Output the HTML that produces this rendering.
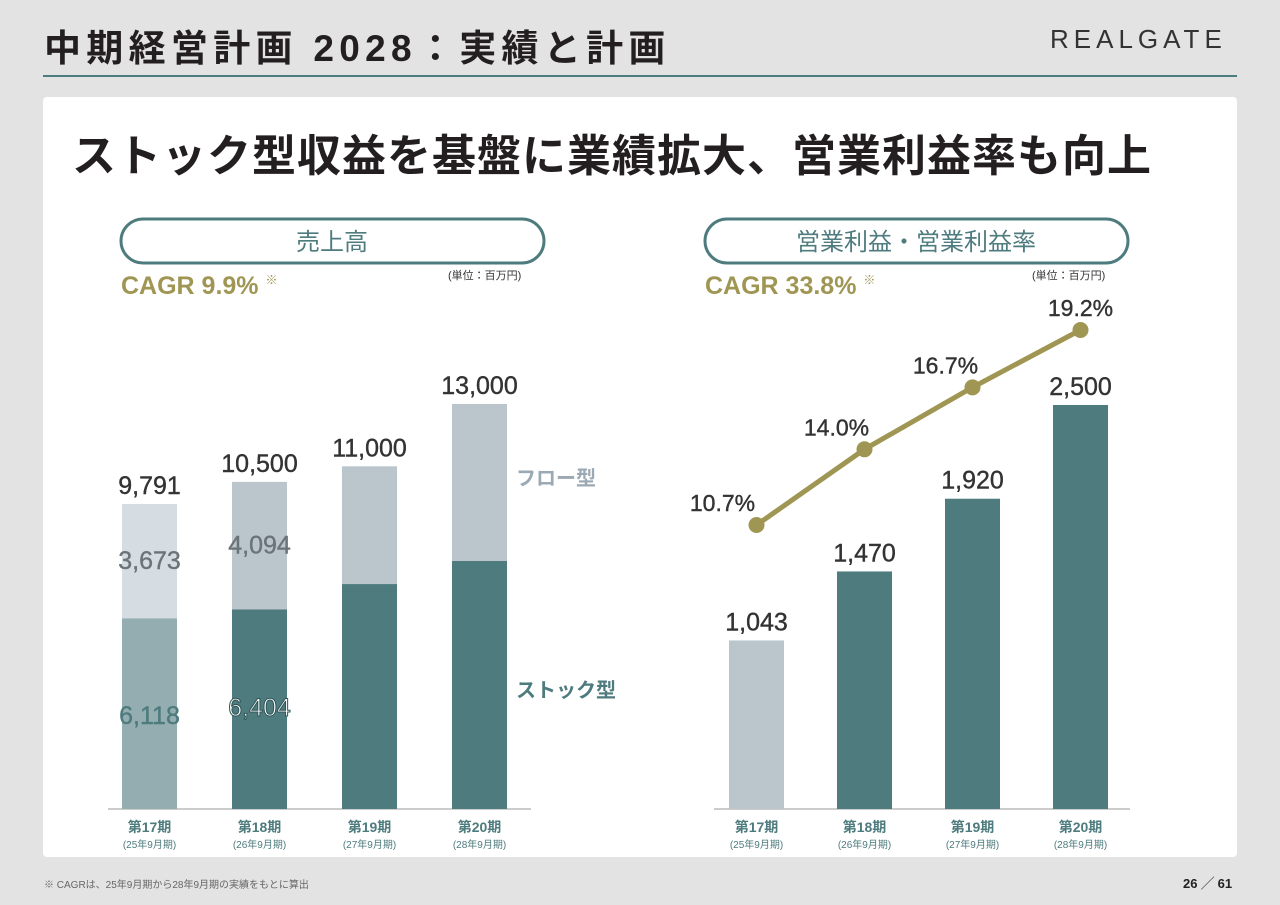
<!DOCTYPE html>
<html><head><meta charset="utf-8"><style>
body{margin:0;width:1280px;height:905px;background:#e3e3e3;font-family:"Liberation Sans","Noto Sans CJK JP",sans-serif;position:relative;overflow:hidden}
.abs{position:absolute}
</style></head><body>
<div class="abs" style="left:44px;top:18px;font-size:37px;font-weight:bold;color:#231f20;letter-spacing:5.3px;white-space:nowrap">中期経営計画 2028：実績と計画</div>
<div class="abs" style="left:1050px;top:24px;font-size:26px;color:#333;letter-spacing:5px">REALGATE</div>
<div class="abs" style="left:43px;top:75px;width:1194px;height:2px;background:#4e7b7e"></div>
<div class="abs" style="left:43px;top:97px;width:1194px;height:760px;background:#fff;border-radius:4px"></div>
<div class="abs" style="left:72px;top:120px;font-size:44px;font-weight:bold;color:#231f20;letter-spacing:1px;white-space:nowrap">ストック型収益を基盤に業績拡大、営業利益率も向上</div>
<div class="abs" style="left:44px;top:876px;font-size:10px;color:#666">※ CAGRは、25年9月期から28年9月期の実績をもとに算出</div>
<div class="abs" style="left:1183px;top:873px;font-size:13px;font-weight:bold;color:#222">26 ╱ 61</div>
<svg class="abs" style="left:0;top:0" width="1280" height="905">
<g font-family="Liberation Sans, Noto Sans CJK JP, sans-serif">
<rect x="121" y="219" width="423" height="44" rx="22" fill="none" stroke="#4e7b7e" stroke-width="3"/>
<text x="332" y="250" text-anchor="middle" font-size="24" fill="#4e7b7e">売上高</text>
<rect x="705" y="219" width="423" height="44" rx="22" fill="none" stroke="#4e7b7e" stroke-width="3"/>
<text x="916" y="250" text-anchor="middle" font-size="24" fill="#4e7b7e">営業利益・営業利益率</text>
<text x="121" y="294" font-size="25" font-weight="bold" fill="#a09654">CAGR 9.9% <tspan font-size="12" dy="-10">※</tspan></text>
<text x="705" y="294" font-size="25" font-weight="bold" fill="#a09654">CAGR 33.8% <tspan font-size="12" dy="-10">※</tspan></text>
<text x="448" y="279" font-size="11" fill="#333">(単位：百万円)</text>
<text x="1032" y="279" font-size="11" fill="#333">(単位：百万円)</text>
<text x="516" y="485" font-size="20" font-weight="bold" fill="#9aa9b3">フロー型</text>
<text x="516" y="697" font-size="20" font-weight="bold" fill="#4e7b7e">ストック型</text>
<line x1="108" y1="809" x2="531" y2="809" stroke="#bbb" stroke-width="1.5"/>
<line x1="714" y1="809" x2="1130" y2="809" stroke="#bbb" stroke-width="1.5"/>
<g id="L"></g><g id="R"></g>
</g></svg>
<script>
const periods=["第17期","第18期","第19期","第20期"];
const fyLabels=["(25年9月期)","(26年9月期)","(27年9月期)","(28年9月期)"];
const salesTotal=[9791,10500,11000,13000];
const salesStock=[6118,6404,7220,7960];
const flowLabels=["3,673","4,094","",""];
const stockLabels=["6,118","6,404","",""];
const profit=[1043,1470,1920,2500];
const margin=[10.7,14.0,16.7,19.2];
const NS="http://www.w3.org/2000/svg";
const base=809;
const ys=v=>base-v*405/13000;
const yp=v=>base-v*404/2500;
const ym=v=>525-(v-10.7)*22.94;
const lx=i=>122+i*110, rx=i=>729+i*108, bw=55;
const mOff=[-34,-28,-27,0];
function mk(par,tag,a,txt){const e=document.createElementNS(NS,tag);for(const k in a)e.setAttribute(k,a[k]);if(txt!==undefined)e.textContent=txt;par.appendChild(e);return e;}
const L=document.getElementById('L'),R=document.getElementById('R');
const fmt=v=>v.toLocaleString('en-US');
salesTotal.forEach((t,i)=>{
 const s=salesStock[i];
 let e=mk(L,'rect',{x:lx(i),y:ys(t),width:bw,height:ys(s)-ys(t),fill:i==0?'#d5dde2':'#bac5cc'});
 
 
 e=mk(L,'rect',{x:lx(i),y:ys(s),width:bw,height:base-ys(s),fill:i==0?'#93adb0':'#4e7b7e'});
 
 
 e=mk(L,'text',{x:lx(i)+bw/2,y:ys(t)-10,'text-anchor':'middle','font-size':25,fill:'#333','stroke':'#333','stroke-width':0.4},fmt(t));
 
 
 if(flowLabels[i]){e=mk(L,'text',{x:lx(i)+bw/2,y:(ys(t)+ys(s))/2+8,'text-anchor':'middle','font-size':25,fill:'#6b7478','stroke':'#6b7478','stroke-width':0.4},flowLabels[i]);
 
 }
 if(stockLabels[i]){e=mk(L,'text',{x:lx(i)+bw/2,y:724-(i*8),'text-anchor':'middle','font-size':25,fill:i==0?'#4e7b7e':'#fff',stroke:i==0?'#4e7b7e':'#2f5456','stroke-width':i==0?0.4:1},stockLabels[i]);
 
 }
 e=mk(L,'text',{x:lx(i)+bw/2,y:832,'text-anchor':'middle','font-size':14,'font-weight':'bold',fill:'#4e7b7e'},periods[i]);
 
 
 e=mk(L,'text',{x:lx(i)+bw/2,y:848,'text-anchor':'middle','font-size':10,fill:'#4e7b7e'},fyLabels[i]);
 
 
});
profit.forEach((p,i)=>{
 let e=mk(R,'rect',{x:rx(i),y:yp(p),width:bw,height:base-yp(p),fill:i==0?'#bac5cc':'#4e7b7e'});
 
 
 e=mk(R,'text',{x:rx(i)+bw/2,y:yp(p)-10,'text-anchor':'middle','font-size':25,fill:'#333','stroke':'#333','stroke-width':0.4},fmt(p));
 
 
 e=mk(R,'text',{x:rx(i)+bw/2,y:832,'text-anchor':'middle','font-size':14,'font-weight':'bold',fill:'#4e7b7e'},periods[i]);
 
 
 e=mk(R,'text',{x:rx(i)+bw/2,y:848,'text-anchor':'middle','font-size':10,fill:'#4e7b7e'},fyLabels[i]);
 
 
});
const pts=margin.map((m,i)=>[rx(i)+bw/2,ym(m)]);
let ln=mk(R,'polyline',{points:pts.map(p=>p.join(',')).join(' '),fill:'none',stroke:'#a09654','stroke-width':5});


margin.forEach((m,i)=>{
 let e=mk(R,'circle',{cx:pts[i][0],cy:pts[i][1],r:8,fill:'#a09654'});
 
 
 e=mk(R,'text',{x:pts[i][0]+mOff[i],y:pts[i][1]-14,'text-anchor':'middle','font-size':23,fill:'#333','stroke':'#333','stroke-width':0.4},m.toFixed(1)+'%');
 
 
});
</script>
</body></html>
